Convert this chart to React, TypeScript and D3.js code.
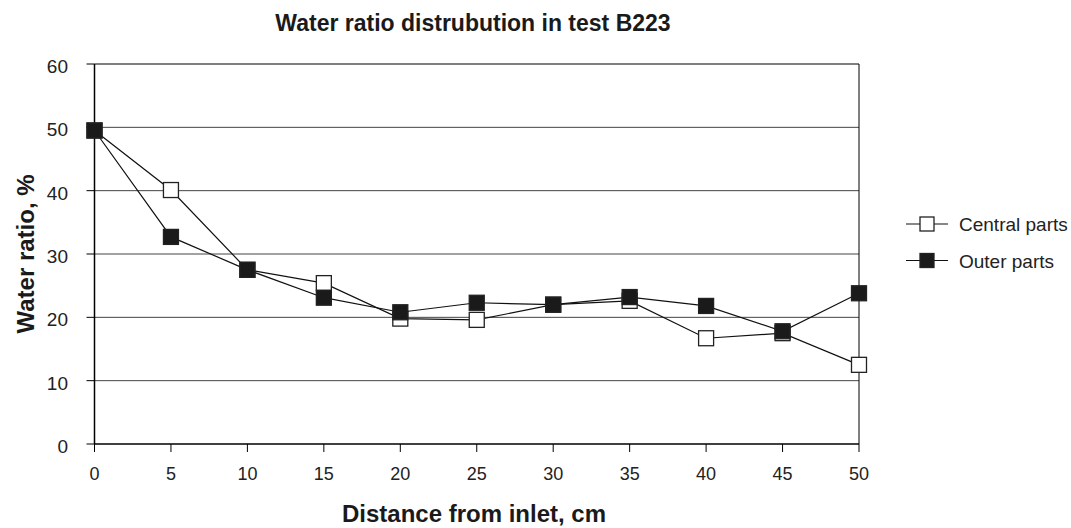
import * as d3 from "d3";

const distances = [0, 5, 10, 15, 20, 25, 30, 35, 40, 45, 50];
const centralParts = [49.5, 40.1, 27.5, 25.4, 19.8, 19.6, 22.0, 22.6, 16.7, 17.5, 12.5];
const outerParts = [49.5, 32.7, 27.5, 23.1, 20.8, 22.3, 22.0, 23.2, 21.8, 17.8, 23.8];
const yTicks = [0, 10, 20, 30, 40, 50, 60];

const width = 1071;
const height = 528;
const margin = { left: 94.5, right: 212, top: 64, bottom: 84 };
const font = "'Liberation Sans', Arial, sans-serif";

const series = [
  { name: "Central parts", values: centralParts, fill: "#fff" },
  { name: "Outer parts", values: outerParts, fill: "#1a1a1a" },
];

export default function App() {
  const x = d3.scaleLinear().domain([0, 50]).range([margin.left, width - margin.right]);
  const y = d3.scaleLinear().domain([0, 60]).range([height - margin.bottom, margin.top]);
  const line = d3.line<number>().x((_, i) => x(distances[i])).y((d) => y(d));
  const ms = 15;

  return (
    <svg width={width} height={height} style={{ position: "absolute", left: 0, top: 0 }}>
      <rect width={width} height={height} fill="#fff" />
      <text x={473} y={31} textAnchor="middle" fontFamily={font} fontWeight="bold" fontSize={23} fill="#1a1a1a">
        Water ratio distrubution in test B223
      </text>
      {yTicks.map((t) => (
        <g key={t}>
          {t > 0 && (
            <line x1={x(0)} x2={x(50)} y1={y(t)} y2={y(t)} stroke={t === 60 ? "#000" : "#444"} strokeWidth={1} />
          )}
          <line x1={x(0) - 8} x2={x(0)} y1={y(t)} y2={y(t)} stroke="#000" />
          <text x={68} y={y(t) + 9} textAnchor="end" fontFamily={font} fontSize={19} fill="#222">
            {t}
          </text>
        </g>
      ))}
      {distances.map((d) => (
        <g key={d}>
          <line x1={x(d)} x2={x(d)} y1={y(0)} y2={y(0) + 8} stroke="#000" />
          <text x={x(d)} y={y(0) + 36} textAnchor="middle" fontFamily={font} fontSize={18} fill="#222">
            {d}
          </text>
        </g>
      ))}
      <line x1={x(50)} x2={x(50)} y1={y(60)} y2={y(0)} stroke="#000" />
      <line x1={x(0)} x2={x(0)} y1={y(60)} y2={y(0)} stroke="#000" strokeWidth={1.5} />
      <line x1={x(0)} x2={x(50)} y1={y(0)} y2={y(0)} stroke="#000" strokeWidth={1.5} />
      {series.map((s) => (
        <g key={s.name}>
          <path d={line(s.values) ?? ""} fill="none" stroke="#111" strokeWidth={1.2} />
          {s.values.map((v, i) => (
            <rect
              key={i}
              x={x(distances[i]) - ms / 2}
              y={y(v) - ms / 2}
              width={ms}
              height={ms}
              fill={s.fill}
              stroke="#222"
              strokeWidth={1.3}
            />
          ))}
        </g>
      ))}
      {series.map((s, i) => {
        const ly = 224 + i * 36.5;
        return (
          <g key={s.name}>
            <line x1={906} x2={948} y1={ly} y2={ly} stroke="#111" strokeWidth={1.2} />
            <rect x={927 - 7} y={ly - 7} width={14} height={14} fill={s.fill} stroke="#222" strokeWidth={1.3} />
            <text x={959} y={ly + 7} fontFamily={font} fontSize={19} fill="#222">
              {s.name}
            </text>
          </g>
        );
      })}
      <text x={474} y={522} textAnchor="middle" fontFamily={font} fontWeight="bold" fontSize={24} fill="#1a1a1a">
        Distance from inlet, cm
      </text>
      <text
        transform={`translate(34, ${y(30)}) rotate(-90)`}
        textAnchor="middle"
        fontFamily={font}
        fontWeight="bold"
        fontSize={24}
        fill="#1a1a1a"
      >
        Water ratio, %
      </text>
    </svg>
  );
}
